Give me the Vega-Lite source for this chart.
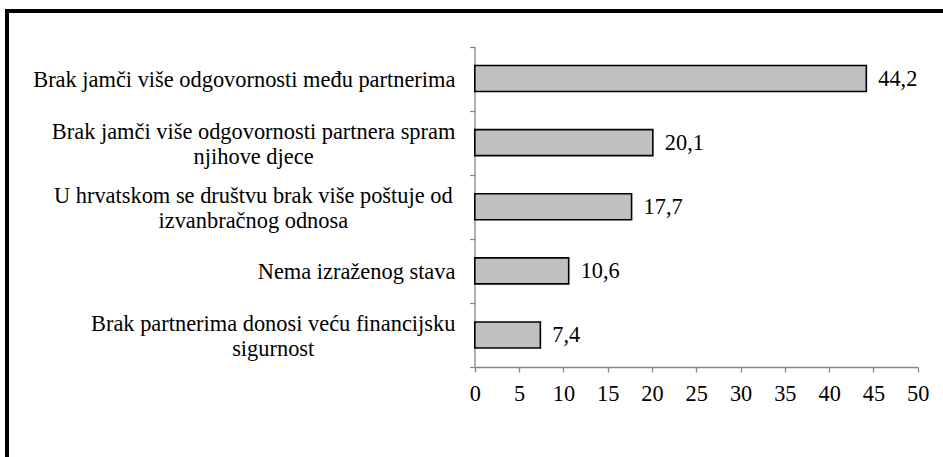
{
  "$schema": "https://vega.github.io/schema/vega-lite/v6.json",
  "width": 940,
  "height": 450,
  "autosize": {"type": "none"},
  "padding": {"left": 7, "top": 11, "right": -4, "bottom": -4},
  "background": "white",
  "config": {
    "view": {"stroke": "black", "strokeWidth": 4},
    "font": "Liberation Serif",
    "locale": {"number": {"decimal": ",", "thousands": ".", "grouping": [3], "currency": ["", ""]}}
  },
  "data": {
    "values": [
      {"odgovor": "Brak jamči više odgovornosti među partnerima", "postotak": 44.2},
      {"odgovor": "Brak jamči više odgovornosti partnera spram\nnjihove djece", "postotak": 20.1},
      {"odgovor": "U hrvatskom se društvu brak više poštuje od\nizvanbračnog odnosa", "postotak": 17.7},
      {"odgovor": "Nema izraženog stava", "postotak": 10.6},
      {"odgovor": "Brak partnerima donosi veću financijsku\nsigurnost", "postotak": 7.4}
    ]
  },
  "encoding": {
    "y": {
      "field": "odgovor",
      "type": "nominal",
      "sort": null,
      "scale": {"range": [35.5, 356], "paddingInner": 0, "paddingOuter": 0},
      "axis": {
        "title": null,
        "orient": "left",
        "offset": -467.5,
        "grid": false,
        "domainColor": "#868686",
        "domainWidth": 1.3,
        "tickColor": "#868686",
        "tickWidth": 1.3,
        "tickSize": 5,
        "tickBand": "extent",
        "labelExpr": "datum.value ? split(datum.value, '\\n') : ''",
        "labelAlign": "center",
        "labelBaseline": "middle",
        "labelFont": "Liberation Serif",
        "labelFontSize": 22.4,
        "labelLineHeight": 24.5,
        "labelColor": "black",
        "labelLimit": 0,
        "labelOverlap": false,
        "labelOffset": {
          "condition": [
            {"test": "datum.value == 'Brak jamči više odgovornosti partnera spram\\nnjihove djece'", "value": -11},
            {"test": "datum.value == 'U hrvatskom se društvu brak više poštuje od\\nizvanbračnog odnosa'", "value": -11},
            {"test": "datum.value == 'Brak partnerima donosi veću financijsku\\nsigurnost'", "value": -11}
          ],
          "value": 1
        },
        "labelPadding": {
          "condition": [
            {"test": "datum.value == 'Brak jamči više odgovornosti partnera spram\\nnjihove djece'", "value": 216.4},
            {"test": "datum.value == 'U hrvatskom se društvu brak više poštuje od\\nizvanbračnog odnosa'", "value": 216.7},
            {"test": "datum.value == 'Nema izraženog stava'", "value": 113.4},
            {"test": "datum.value == 'Brak partnerima donosi veću financijsku\\nsigurnost'", "value": 196.8}
          ],
          "value": 225.7
        }
      }
    },
    "x": {
      "field": "postotak",
      "type": "quantitative",
      "scale": {"domain": [0, 50], "range": [467.8, 910.7], "nice": false},
      "axis": {
        "title": null,
        "orient": "bottom",
        "offset": -94,
        "grid": false,
        "tickCount": 10,
        "domainColor": "#868686",
        "domainWidth": 1.3,
        "tickColor": "#868686",
        "tickWidth": 1.3,
        "tickSize": 5,
        "labelFont": "Liberation Serif",
        "labelFontSize": 22.3,
        "labelColor": "black",
        "labelPadding": 10,
        "labelFlush": false
      }
    }
  },
  "layer": [
    {
      "mark": {"type": "bar", "height": {"band": 0.405}, "fill": "#C0C0C0", "stroke": "black", "strokeWidth": 1.6}
    },
    {
      "mark": {"type": "text", "align": "left", "baseline": "middle", "dx": 12, "fontSize": 22.3, "font": "Liberation Serif", "color": "black"},
      "encoding": {"text": {"field": "postotak", "type": "quantitative", "format": ".1f"}}
    }
  ]
}
